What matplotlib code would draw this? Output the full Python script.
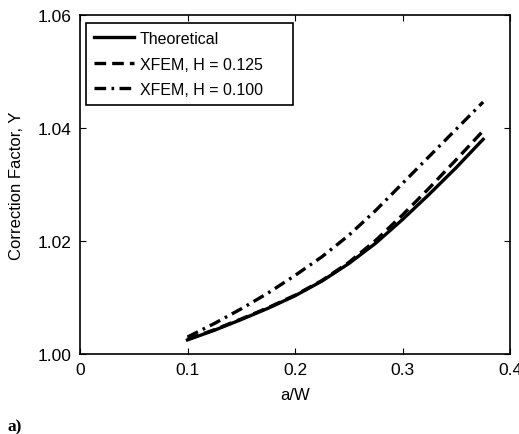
import numpy as np
from matplotlib import pyplot as plt

plt.rcParams['font.family'] = ['Liberation Sans', 'DejaVu Sans']

aw = [0.1, 0.125, 0.15, 0.175, 0.2, 0.225, 0.25, 0.275, 0.3, 0.325, 0.35, 0.375]
theoretical = [1.0025, 1.0042, 1.0061, 1.0081, 1.0103, 1.0129, 1.0160, 1.0196, 1.0238, 1.0283, 1.0330, 1.0380]
xfem_125 = [1.0026, 1.0043, 1.0062, 1.0082, 1.0104, 1.0130, 1.0162, 1.0201, 1.0246, 1.0294, 1.0344, 1.0395]
xfem_100 = [1.0030, 1.0054, 1.0080, 1.0108, 1.0139, 1.0172, 1.0210, 1.0254, 1.0302, 1.0350, 1.0398, 1.0446]

fig = plt.figure(figsize=(5.19, 4.35), dpi=100)
ax = fig.add_axes([80 / 519, 1 - 355 / 435, 430 / 519, 339 / 435])

ax.plot(aw, theoretical, 'k-', lw=2.4, label="Theoretical")
ax.plot(aw, xfem_125, 'k--', lw=2.4, dashes=(3.5, 1.8), label="XFEM, H = 0.125")
ax.plot(aw, xfem_100, 'k-.', lw=2.4, dashes=(3.5, 1.6, 0.8, 1.6), label="XFEM, H = 0.100")

ax.set_xlim(0, 0.4)
ax.set_ylim(1.0, 1.06)
ax.set_xticks([0, 0.1, 0.2, 0.3, 0.4])
ax.set_xticklabels(["0", "0.1", "0.2", "0.3", "0.4"])
ax.set_yticks([1.00, 1.02, 1.04, 1.06])
ax.set_yticklabels(["1.00", "1.02", "1.04", "1.06"])
ax.tick_params(direction='in', top=True, right=True, labelsize=12.5, length=4, width=0.8, pad=6)
for s in ax.spines.values():
    s.set_linewidth(1.2)

ax.set_xlabel("a/W", fontsize=12, labelpad=7)
ax.set_ylabel("Correction Factor, Y", fontsize=12, labelpad=10)

# legend box spans a fixed width like the original (extra room on the right)
leg = ax.legend(loc='upper left', bbox_to_anchor=(6 / 430, 331 / 339, 207 / 430, 0.0),
                mode='expand', fontsize=11.5, fancybox=False, edgecolor='black',
                framealpha=1, handlelength=2.5, borderaxespad=0, labelspacing=0.66,
                handletextpad=0.35, borderpad=0.5)
leg.get_frame().set_linewidth(1.2)

fig.text(8 / 519, 1 - 427 / 435, "a)", fontsize=12.5, fontweight='bold', va='center',
         family=['Liberation Serif', 'DejaVu Serif'])

fig.savefig("out.png", dpi=100)
